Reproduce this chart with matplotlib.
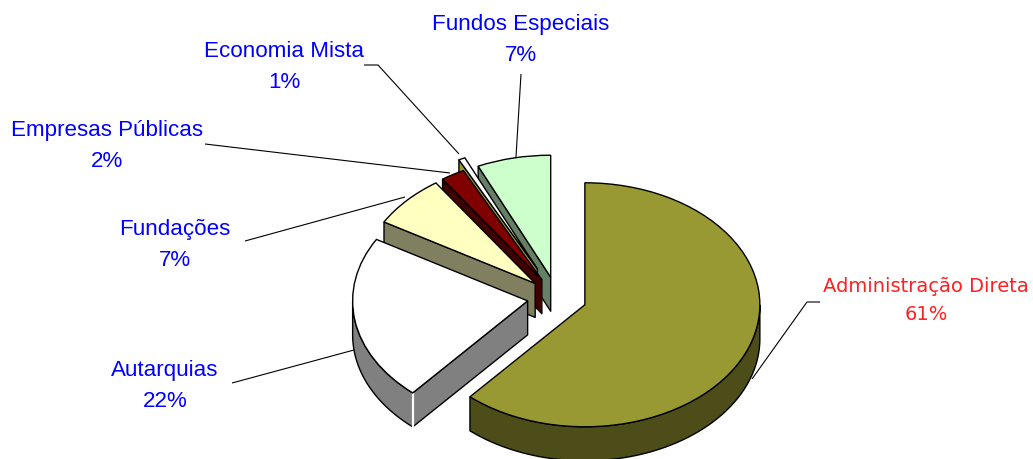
"""Exploded 3D-style pie of the budget share by type of entity."""
import matplotlib
matplotlib.use("Agg")
import matplotlib.pyplot as plt
import numpy as np
from matplotlib.patches import Polygon
from matplotlib.transforms import Affine2D

plt.rcParams["font.family"] = ["Liberation Sans", "DejaVu Sans"]

# clockwise from 12 o'clock
categories = ["Administração Direta", "Autarquias", "Fundações",
              "Empresas Públicas", "Economia Mista", "Fundos Especiais"]
values = [61.4, 22.0, 7.0, 2.2, 0.6, 6.8]

top_colors = ["#999933", "#ffffff", "#ffffc0", "#800000", "#ffffff", "#ccffcc"]
wall_colors = ["#4d4d19", "#808080", "#808060", "#400000", "#999933", "#668066"]
explode = [0.17, 0.17, 0.17, 0.17, 0.26, 0.17]
# paint order, back to front
zorders = [6, 5, 4, 3, 2, 1]

RX, RY, DEPTH = 175.0, 122.0, 34.0
CX, CY = 557.0, 460 - 298.5

# label centre, leader line (figure pixels, y down)
label_pos = [(926, 300), (165, 386), (175, 245), (107, 146), (284, 67), (521, 40)]
leaders = [
    [(820, 303), (807, 303), (752, 380)],
    [(232, 384), (354, 351)],
    [(245, 242), (405, 198)],
    [(205, 145), (450, 174)],
    [(364, 66), (378, 66), (459, 155)],
    [(521, 75), (516, 158)],
]
label_sizes = [14, 16.1, 16.1, 16.1, 16.1, 16.1]
label_colors = ["#ff2020", "#0000ff", "#0000ff", "#0000ff", "#0000ff", "#0000ff"]
label_fonts = ["DejaVu Sans", "Liberation Sans", "Liberation Sans",
               "Liberation Sans", "Liberation Sans", "Liberation Sans"]

fig = plt.figure(figsize=(10.33, 4.6), dpi=100)
ax = fig.add_axes([0, 0, 1, 1])

wedges, _ = ax.pie(values, explode=explode, startangle=90,
                   counterclock=False, radius=1.0, normalize=True,
                   colors=top_colors,
                   wedgeprops={"edgecolor": "black", "linewidth": 1.0})
ax.set_aspect("auto")
ax.set_xlim(0, 1033)
ax.set_ylim(0, 460)
ax.axis("off")

squash = Affine2D().scale(RX, RY).translate(CX, CY) + ax.transData
drop = DEPTH / RY


def add_face(xs, ys, color, z):
    top = np.column_stack([xs, ys])
    low = np.column_stack([xs, np.asarray(ys) - drop])[::-1]
    ax.add_patch(Polygon(np.vstack([top, low]), closed=True, facecolor=color,
                         edgecolor="black", linewidth=1.0, transform=squash,
                         zorder=z, joinstyle="round"))


for w, wall, z in zip(wedges, wall_colors, zorders):
    w.set_transform(squash)
    w.set_zorder(z + 0.5)
    cx, cy = w.center
    # a radial face shows only if it looks downwards on screen;
    # theta2 is where the slice starts going clockwise
    if np.cos(np.radians(w.theta2)) < -1e-6:
        a = np.radians(w.theta2)
        add_face([cx, cx + np.cos(a)], [cy, cy + np.sin(a)], wall, z)
    if np.cos(np.radians(w.theta1)) > 1e-6:
        a = np.radians(w.theta1)
        add_face([cx, cx + np.cos(a)], [cy, cy + np.sin(a)], wall, z)
    # rim: the part of the arc on the lower half
    angles = np.radians(np.linspace(w.theta1, w.theta2, 300))
    angles = angles[np.sin(angles) <= 0]
    if len(angles) > 1:
        add_face(cx + np.cos(angles), cy + np.sin(angles), wall, z)
        if z == 5:
            # the thin light seam where Autarquias' rim meets its side
            ax.plot([cx + np.cos(angles[-1])] * 2,
                    [cy + np.sin(angles[-1]), cy + np.sin(angles[-1]) - drop],
                    color="white", lw=1.6, transform=squash, zorder=z + 0.2)

for pts in leaders:
    xs = [p[0] for p in pts]
    ys = [460 - p[1] for p in pts]
    ax.plot(xs, ys, color="black", lw=0.8, zorder=0.5, solid_capstyle="butt")

for name, val, pos, size, col, font in zip(categories, values, label_pos,
                                           label_sizes, label_colors, label_fonts):
    ax.text(pos[0], 460 - pos[1], f"{name}\n{val:.0f}%", ha="center", va="center",
            fontsize=size, color=col, family=[font, "DejaVu Sans"],
            linespacing=1.6, zorder=20)

fig.savefig("out.png", dpi=100)
